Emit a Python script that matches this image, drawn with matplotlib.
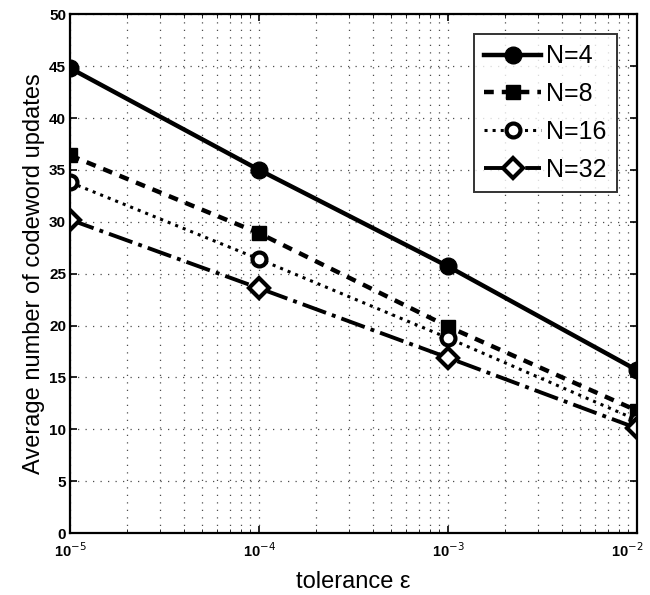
import numpy as np
import matplotlib
matplotlib.use("Agg")
import matplotlib.pyplot as plt
from matplotlib import transforms

plt.rcParams["font.family"] = ["Liberation Sans", "DejaVu Sans"]

tolerance = [1e-5, 1e-4, 1e-3, 1e-2]
n4 = [44.8, 35.0, 25.7, 15.7]
n8 = [36.4, 28.9, 19.9, 11.8]
n16 = [33.8, 26.4, 18.8, 10.9]
n32 = [30.2, 23.6, 16.9, 10.1]
labels = ["N=4", "N=8", "N=16", "N=32"]
xtick_labels = ["10$^{-5}$", "10$^{-4}$", "10$^{-3}$", "10$^{-2}$"]

fig = plt.figure(figsize=(6.5, 5.95), dpi=100)
ax = fig.add_axes([0.108, 0.104, 0.872, 0.872])

ax.plot(tolerance, n4, "k-", marker="o", markersize=12, linewidth=3.2,
        label=labels[0])
ax.plot(tolerance, n8, "k--", marker="s", markersize=10, linewidth=3.2,
        dashes=(2.2, 1.8), label=labels[1])
ax.plot(tolerance, n16, "k:", marker="o", markersize=10, linewidth=2.2,
        markerfacecolor="white", markeredgewidth=3, label=labels[2])
ax.plot(tolerance, n32, "k-.", marker="D", markersize=10, linewidth=2.8,
        markerfacecolor="white", markeredgewidth=3, label=labels[3])

ax.set_xscale("log")
ax.set_xlim(1e-5, 1e-2)
ax.set_ylim(0, 50)
ax.set_yticks(np.arange(0, 51, 5))
ax.set_xticks(tolerance)
ax.set_xticklabels(xtick_labels)
ax.grid(True, which="both", axis="x", color="0.3", linestyle=(0, (1, 5)),
        linewidth=0.9)
ax.grid(True, which="major", axis="y", color="0.3", linestyle=(0, (1, 5)),
        linewidth=0.9)
ax.tick_params(axis="both", which="major", labelsize=11, direction="in",
               length=5, width=1.2, top=True, right=True)
ax.tick_params(axis="x", which="major", labelsize=10.5, pad=6)
ax.tick_params(axis="y", which="major", pad=3)
ax.tick_params(axis="x", which="minor", direction="in", length=3, top=True)
for lbl in ax.get_yticklabels() + ax.get_xticklabels():
    lbl.set_fontweight("bold")
# keep the last decade label inside the figure
last = ax.get_xticklabels()[-1]
last.set_transform(last.get_transform() +
                   transforms.ScaledTranslation(-0.1, 0, fig.dpi_scale_trans))
for s in ax.spines.values():
    s.set_linewidth(1.6)

ax.set_xlabel("tolerance ε", fontsize=17, labelpad=8)
ax.set_ylabel("Average number of codeword updates", fontsize=17, labelpad=3)

leg = ax.legend(loc="upper right", fontsize=18, frameon=True, fancybox=False,
                edgecolor="black", handlelength=2.3, handletextpad=0.2,
                borderaxespad=0.8, labelspacing=0.55, borderpad=0.4)
leg.get_frame().set_linewidth(1.4)

fig.savefig("out.png", dpi=100)
